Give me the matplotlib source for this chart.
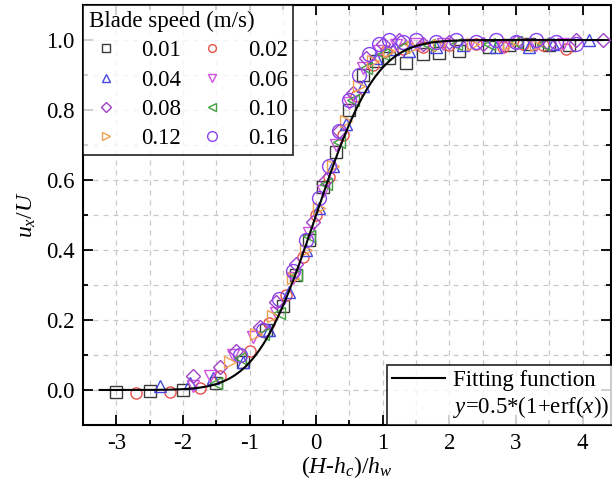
import math
import numpy as np
import matplotlib
matplotlib.use("Agg")
import matplotlib.pyplot as plt
from matplotlib.lines import Line2D
from matplotlib.ticker import MultipleLocator

plt.rcParams['font.family'] = ['Liberation Serif', 'DejaVu Serif']
plt.rcParams['mathtext.fontset'] = 'custom'
plt.rcParams['mathtext.rm'] = 'Liberation Serif'
plt.rcParams['mathtext.it'] = 'Liberation Serif:italic'

speeds = ['0.01', '0.02', '0.04', '0.06', '0.08', '0.10', '0.12', '0.16']

x_001 = [-3.0, -2.5, -2.0, -1.5, -1.1, -0.75, -0.5, -0.3, -0.1, 0.1, 0.3, 0.5, 0.7, 0.9, 1.1, 1.35, 1.6, 1.85, 2.15, 2.6, 2.9, 3.2, 3.5, 3.8]
y_001 = [-0.005, -0.003, 0.0, 0.02, 0.08, 0.17, 0.24, 0.33, 0.43, 0.58, 0.68, 0.80, 0.90, 0.94, 0.95, 0.935, 0.96, 0.963, 0.97, 0.98, 0.985, 0.99, 0.985, 0.985]

x_002 = [-2.7, -2.2, -1.75, -1.45, -1.0, -0.7, -0.45, -0.2, 0.0, 0.2, 0.4, 0.6, 0.85, 1.05, 1.3, 1.6, 2.0, 2.4, 2.8, 3.1, 3.4, 3.75]
y_002 = [-0.01, -0.005, 0.005, 0.04, 0.11, 0.19, 0.27, 0.38, 0.50, 0.61, 0.73, 0.84, 0.93, 0.97, 0.975, 0.98, 0.985, 0.99, 0.98, 0.99, 0.985, 0.975]

x_004 = [-2.35, -1.9, -1.55, -1.1, -0.7, -0.4, -0.15, 0.05, 0.25, 0.45, 0.7, 0.9, 1.15, 1.4, 1.8, 2.2, 2.7, 3.2, 3.55, 4.1]
y_004 = [0.01, 0.02, 0.035, 0.08, 0.17, 0.28, 0.40, 0.52, 0.64, 0.76, 0.87, 0.95, 0.975, 0.97, 0.98, 0.985, 0.98, 0.98, 0.99, 1.0]

x_006 = [-1.85, -1.6, -1.25, -0.95, -0.6, -0.35, -0.1, 0.1, 0.3, 0.5, 0.7, 0.95, 1.2, 1.5, 1.9, 2.3, 2.8, 3.3, 3.7]
y_006 = [0.01, 0.04, 0.10, 0.15, 0.22, 0.32, 0.45, 0.57, 0.70, 0.82, 0.92, 0.97, 0.985, 0.99, 0.99, 0.985, 0.98, 0.985, 0.99]

x_008 = [-1.85, -1.45, -1.2, -0.85, -0.6, -0.3, -0.05, 0.15, 0.35, 0.55, 0.75, 1.0, 1.25, 1.6, 2.0, 2.5, 3.0, 3.5, 3.9, 4.3]
y_008 = [0.04, 0.065, 0.11, 0.18, 0.25, 0.36, 0.48, 0.60, 0.74, 0.85, 0.95, 0.99, 1.0, 0.99, 0.995, 0.99, 0.995, 0.99, 1.0, 1.0]

x_010 = [-1.5, -1.15, -0.8, -0.55, -0.3, -0.1, 0.15, 0.35, 0.55, 0.75, 1.0, 1.3, 1.7, 2.1, 2.6, 3.0, 3.4]
y_010 = [0.02, 0.09, 0.16, 0.22, 0.33, 0.44, 0.59, 0.71, 0.83, 0.92, 0.96, 0.98, 0.985, 0.99, 0.99, 0.995, 0.99]

x_012 = [-1.3, -0.9, -0.65, -0.35, -0.15, 0.05, 0.25, 0.45, 0.65, 0.85, 1.1, 1.45, 1.85, 2.35, 2.9, 3.3]
y_012 = [0.08, 0.16, 0.21, 0.32, 0.40, 0.52, 0.64, 0.77, 0.87, 0.94, 0.97, 0.98, 0.985, 0.99, 0.99, 0.985]

x_016 = [-1.15, -0.8, -0.55, -0.35, -0.15, 0.05, 0.2, 0.35, 0.5, 0.65, 0.8, 0.95, 1.1, 1.3, 1.5, 1.8, 2.1, 2.4, 2.7, 3.0, 3.3, 3.6, 3.9]
y_016 = [0.10, 0.17, 0.26, 0.34, 0.43, 0.55, 0.64, 0.74, 0.83, 0.90, 0.96, 0.99, 1.0, 0.995, 1.0, 0.995, 1.0, 0.995, 1.0, 0.995, 1.0, 0.995, 0.99]

xs = [x_001, x_002, x_004, x_006, x_008, x_010, x_012, x_016]
ys = [y_001, y_002, y_004, y_006, y_008, y_010, y_012, y_016]
markers = ['s', 'o', '^', 'v', 'D', '<', '>', 'o']
colors = ['#3a3a3a', '#e8504a', '#4646e0', '#d050e0', '#a040c8', '#40a040', '#f0a050', '#8844f0']
msizes = [8, 8, 8.5, 8.5, 7.5, 8.5, 8.5, 10]

fit_x = np.linspace(-3.25, 4.3, 400)
fit_y = 0.5 * (1 + np.array([math.erf(v) for v in fit_x]))

FS = 16.5

fig = plt.figure(figsize=(6.12, 4.9), dpi=100)
ax = fig.add_axes([0.1356, 0.1327, 0.862, 0.857])

ax.set_xlim(-3.5, 4.42)
ax.set_ylim(-0.1, 1.1)
ax.xaxis.set_minor_locator(MultipleLocator(0.5))
ax.yaxis.set_minor_locator(MultipleLocator(0.1))
ax.set_xticks(np.arange(-3, 5, 1))
ax.set_xticklabels([str(v) for v in range(-3, 5)])
ax.set_yticks([0.0, 0.2, 0.4, 0.6, 0.8, 1.0])
ax.set_yticklabels(['0.0', '0.2', '0.4', '0.6', '0.8', '1.0'])

ax.grid(True, which='both', color='#c8c8c8', linestyle=(0, (4, 4)), linewidth=0.9)
ax.set_axisbelow(True)

ax.tick_params(which='both', direction='in', top=True, right=True, labelsize=FS, width=1.3)
ax.tick_params(which='major', length=7, pad=6)
ax.tick_params(which='minor', length=3.5)
for sp in ax.spines.values():
    sp.set_linewidth(1.5)

handles = {}
for x, y, m, c, ms, lab in zip(xs, ys, markers, colors, msizes, speeds):
    h, = ax.plot(x, y, linestyle='none', marker=m, markersize=ms, markerfacecolor='none',
                 markeredgecolor=c, markeredgewidth=1.0, label=lab, zorder=3)
    handles[lab] = h

fit_line, = ax.plot(fit_x, fit_y, color='black', linewidth=1.5, zorder=4)

# row-wise ordering: matplotlib fills columns first
order = ['0.01', '0.04', '0.08', '0.12', '0.02', '0.06', '0.10', '0.16']
leg1 = ax.legend(handles=[handles[k] for k in order], labels=order, title='Blade speed (m/s)', ncol=2,
                 loc='upper left', bbox_to_anchor=(0, 1), borderaxespad=0, fontsize=FS,
                 title_fontsize=FS, frameon=True, fancybox=False, edgecolor='black',
                 markerscale=0.7, handlelength=1.5, handletextpad=0.8, columnspacing=0.6,
                 labelspacing=0.36, borderpad=0.25)
leg1.get_frame().set_linewidth(1.3)
leg1._legend_box.align = 'left'
ax.add_artist(leg1)

blank = Line2D([], [], color='none')
leg2 = ax.legend(handles=[fit_line, blank],
                 labels=['Fitting function', r'$y$=0.5*(1+erf($x$))'],
                 loc='lower right', bbox_to_anchor=(1.006, 0), borderaxespad=0, fontsize=FS,
                 frameon=True, fancybox=False, edgecolor='black', handlelength=2.3,
                 handletextpad=0.35, labelspacing=0.15, borderpad=0.2)
leg2.get_frame().set_linewidth(1.3)

ax.set_ylabel(r'$u_x/U$', fontsize=FS + 0.5, labelpad=6)
ax.set_xlabel(r'($H$-$h_c$)/$h_w$', fontsize=FS + 0.5, labelpad=0)

fig.savefig('out.png', dpi=100)
